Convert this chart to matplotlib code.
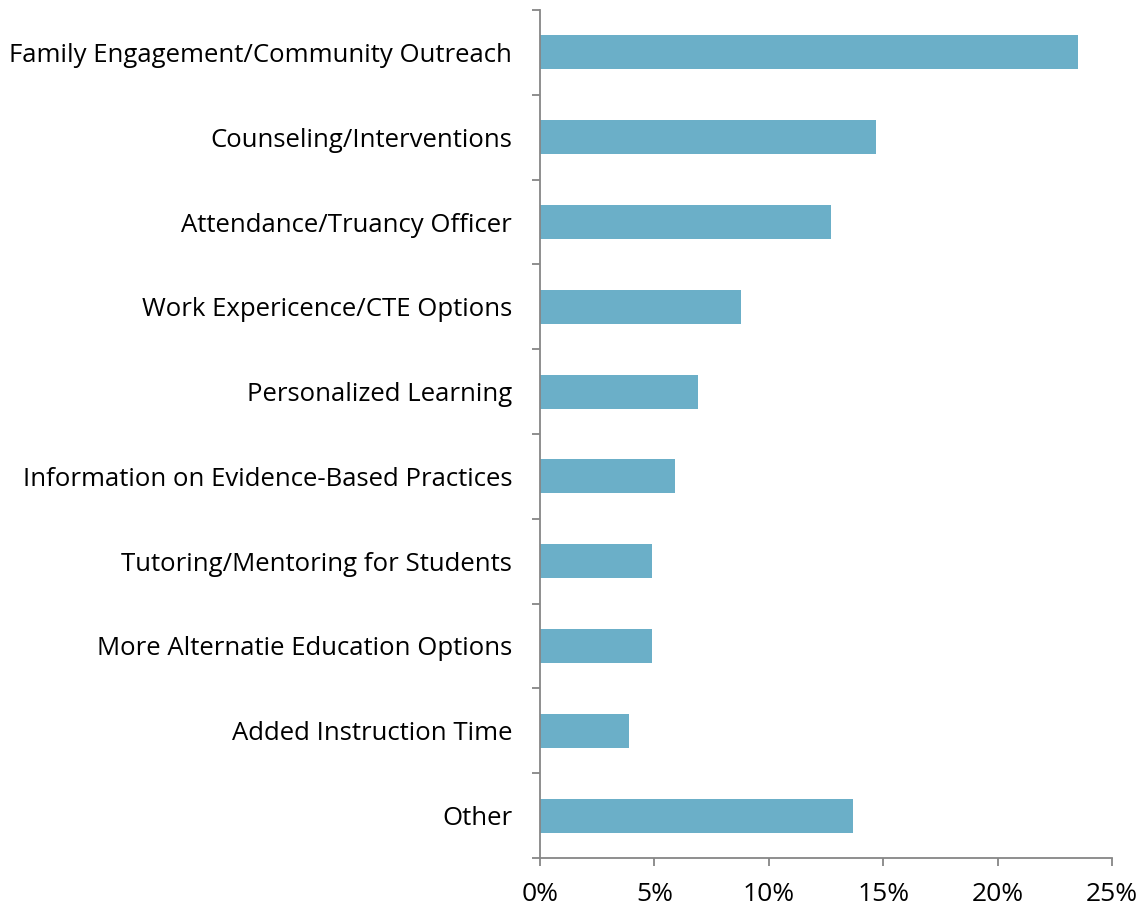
import matplotlib
matplotlib.use("Agg")
import matplotlib.pyplot as plt
from matplotlib.ticker import FuncFormatter, MultipleLocator
import numpy as np

plt.rcParams['font.family'] = ['Open Sans', 'DejaVu Sans']

# survey categories, top to bottom as shown
categories = [
    "Family Engagement/Community Outreach",
    "Counseling/Interventions",
    "Attendance/Truancy Officer",
    "Work Expericence/CTE Options",
    "Personalized Learning",
    "Information on Evidence-Based Practices",
    "Tutoring/Mentoring for Students",
    "More Alternatie Education Options",
    "Added Instruction Time",
    "Other",
]
# share of responses, percent
share = [23.5, 14.7, 12.7, 8.8, 6.9, 5.9, 4.9, 4.9, 3.9, 13.7]

bar_color = "#6BAFC8"
axis_color = "#868686"

fig = plt.figure(figsize=(11.43, 9.11), dpi=100)
ax = fig.add_axes([0.4724, 0.0582, 0.5005, 0.9308])

ypos = np.arange(len(categories))
ax.barh(ypos, share, height=0.4, color=bar_color)

ax.set_xlim(0, 25)
ax.set_ylim(len(categories) - 0.5, -0.5)
ax.xaxis.set_major_locator(MultipleLocator(5))
ax.xaxis.set_major_formatter(FuncFormatter(lambda v, p: f"{v:.0f}%"))

# category labels centred on bars, tick marks between categories
ax.set_yticks(ypos)
ax.set_yticklabels(categories)
ax.set_yticks(np.arange(len(categories) + 1) - 0.5, minor=True)
ax.tick_params(axis='y', which='major', length=0, pad=20, labelsize=18.5)
ax.tick_params(axis='y', which='minor', length=6, width=1.3, color=axis_color, direction='out')
ax.tick_params(axis='x', which='major', length=6, width=1.3, color=axis_color,
               direction='out', labelsize=19, pad=11)

for side in ('top', 'right'):
    ax.spines[side].set_visible(False)
for side in ('left', 'bottom'):
    ax.spines[side].set_color(axis_color)
    ax.spines[side].set_linewidth(1.3)

fig.savefig("out.png", dpi=100)
